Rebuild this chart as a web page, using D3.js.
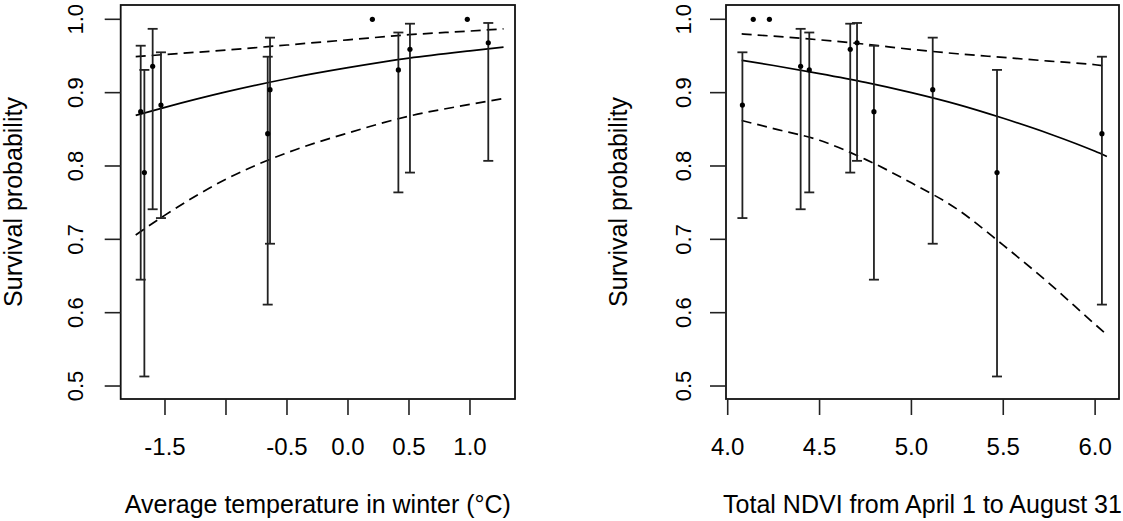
<!DOCTYPE html>
<html>
<head>
<meta charset="utf-8">
<script src="https://cdn.jsdelivr.net/npm/d3@7"></script>
<style>
  body { margin: 0; background: #fff; }
  svg text { font-family: "Liberation Sans", Arial, sans-serif; fill: #000; }
</style>
</head>
<body>
<div id="my_dataviz"></div>
<script>
var tempX    = [-1.699, -1.669, -1.601, -1.533, -0.658, -0.639, 0.200, 0.413, 0.508, 0.978, 1.150];
var ndviX    = [4.796, 5.466, 4.397, 4.080, 6.037, 5.116, 4.139, 4.444, 4.667, 4.227, 4.704];
var survival = [0.874, 0.791, 0.936, 0.883, 0.844, 0.904, 1.000, 0.931, 0.959, 1.000, 0.968];
var ciLow    = [0.645, 0.513, 0.741, 0.729, 0.611, 0.694, null, 0.764, 0.791, null, 0.807];
var ciHigh   = [0.964, 0.931, 0.987, 0.955, 0.949, 0.975, null, 0.982, 0.994, null, 0.995];

// fitted relation with temperature
var tempGrid  = [-1.74, -1.5, -1.0, -0.5, 0.0, 0.5, 1.0, 1.275];
var tempFit   = [0.869, 0.880, 0.901, 0.919, 0.934, 0.947, 0.957, 0.962];
var tempFitUp = [0.949, 0.952, 0.958, 0.965, 0.972, 0.979, 0.984, 0.987];
var tempFitLo = [0.706, 0.733, 0.782, 0.818, 0.845, 0.868, 0.884, 0.892];

// fitted relation with NDVI
var ndviGrid  = [4.076, 4.25, 4.5, 4.75, 5.0, 5.25, 5.5, 5.75, 6.0, 6.064];
var ndviFit   = [0.944, 0.937, 0.926, 0.914, 0.900, 0.884, 0.865, 0.844, 0.820, 0.813];
var ndviFitUp = [0.980, 0.977, 0.972, 0.966, 0.959, 0.953, 0.948, 0.943, 0.938, 0.936];
var ndviFitLo = [0.862, 0.851, 0.835, 0.809, 0.777, 0.741, 0.692, 0.640, 0.584, 0.570];

var tempTicks  = [-1.5, -1.0, -0.5, 0.0, 0.5, 1.0];
var tempLabels = ["-1.5", "", "-0.5", "0.0", "0.5", "1.0"];
var ndviTicks  = [4.0, 4.5, 5.0, 5.5, 6.0];
var ndviLabels = ["4.0", "4.5", "5.0", "5.5", "6.0"];
var yTicks     = [0.5, 0.6, 0.7, 0.8, 0.9, 1.0];
var yLabels    = ["0.5", "0.6", "0.7", "0.8", "0.9", "1.0"];

var W = 1123, H = 521;
var top_ = 5, bottom_ = 399;

var svg = d3.select("#my_dataviz")
  .append("svg")
    .attr("width", W)
    .attr("height", H);

function make_panel(o) {
  var x = d3.scaleLinear().domain(o.xdom).range([o.left, o.right]);
  var y = d3.scaleLinear().domain([0.4823, 1.0195]).range([bottom_, top_]);

  var g = svg.append("g");

  // fitted curves
  var line = d3.line()
    .x(function(d) { return x(d[0]); })
    .y(function(d) { return y(d[1]); })
    .curve(d3.curveMonotoneX);

  [[o.fit, null], [o.up, "10,6"], [o.lo, "10,6"]].forEach(function(c) {
    g.append("path")
      .datum(o.grid.map(function(v, i) { return [v, c[0][i]]; }))
      .attr("fill", "none")
      .attr("stroke", "#000")
      .attr("stroke-width", 1.7)
      .attr("stroke-dasharray", c[1])
      .attr("d", line);
  });

  // error bars
  var bars = o.xs.map(function(v, i) {
    return {x: v, s: survival[i], lo: ciLow[i], hi: ciHigh[i]};
  });
  var withCi = bars.filter(function(d) { return d.lo !== null; });
  var cap = 5;

  g.selectAll(".eb").data(withCi).enter().append("line")
    .attr("x1", function(d) { return x(d.x); })
    .attr("x2", function(d) { return x(d.x); })
    .attr("y1", function(d) { return y(d.lo); })
    .attr("y2", function(d) { return y(d.hi); })
    .attr("stroke", "#222").attr("stroke-width", 1.8);
  ["lo", "hi"].forEach(function(k) {
    g.selectAll(".cap" + k).data(withCi).enter().append("line")
      .attr("x1", function(d) { return x(d.x) - cap; })
      .attr("x2", function(d) { return x(d.x) + cap; })
      .attr("y1", function(d) { return y(d[k]); })
      .attr("y2", function(d) { return y(d[k]); })
      .attr("stroke", "#222").attr("stroke-width", 1.8);
  });

  g.selectAll(".pt").data(bars).enter().append("circle")
    .attr("cx", function(d) { return x(d.x); })
    .attr("cy", function(d) { return y(d.s); })
    .attr("r", 2.6)
    .attr("fill", "#000");

  // box
  g.append("rect")
    .attr("x", o.left).attr("y", top_)
    .attr("width", o.right - o.left).attr("height", bottom_ - top_)
    .attr("fill", "none").attr("stroke", "#111").attr("stroke-width", 1.8);

  // x axis
  var xa = g.append("g").attr("transform", "translate(0," + bottom_ + ")");
  xa.selectAll("line").data(o.ticks).enter().append("line")
    .attr("x1", function(d) { return x(d); }).attr("x2", function(d) { return x(d); })
    .attr("y1", 0).attr("y2", 16)
    .attr("stroke", "#222").attr("stroke-width", 1.6);
  xa.selectAll("text").data(o.ticks).enter().append("text")
    .attr("x", function(d) { return x(d); })
    .attr("y", 56)
    .attr("text-anchor", "middle")
    .style("font-size", "24px")
    .text(function(d, i) { return o.labels[i]; });

  // y axis
  var ya = g.append("g").attr("transform", "translate(" + o.left + ",0)");
  ya.selectAll("line").data(yTicks).enter().append("line")
    .attr("x1", -16).attr("x2", 0)
    .attr("y1", function(d) { return y(d); }).attr("y2", function(d) { return y(d); })
    .attr("stroke", "#222").attr("stroke-width", 1.6);
  ya.selectAll("text").data(yTicks).enter().append("text")
    .attr("transform", function(d) { return "translate(" + o.ylab + "," + y(d) + ")rotate(-90)"; })
    .attr("text-anchor", "middle")
    .style("font-size", "22px")
    .text(function(d, i) { return yLabels[i]; });

  // titles
  g.append("text")
    .attr("x", (o.left + o.right) / 2)
    .attr("y", 513)
    .attr("text-anchor", "middle")
    .style("font-size", "25px")
    .text(o.xtitle);
  g.append("text")
    .attr("transform", "translate(" + (o.left - 99) + "," + ((top_ + bottom_) / 2) + ")rotate(-90)")
    .attr("text-anchor", "middle")
    .style("font-size", "25px")
    .text("Survival probability");
}

make_panel({
  left: 120.7, right: 515, xdom: [-1.863, 1.369], ylab: -38,
  xs: tempX, grid: tempGrid, fit: tempFit, up: tempFitUp, lo: tempFitLo,
  ticks: tempTicks, labels: tempLabels,
  xtitle: "Average temperature in winter (°C)"
});

make_panel({
  left: 726, right: 1119, xdom: [3.9907, 6.130], ylab: -35,
  xs: ndviX, grid: ndviGrid, fit: ndviFit, up: ndviFitUp, lo: ndviFitLo,
  ticks: ndviTicks, labels: ndviLabels,
  xtitle: "Total NDVI from April 1 to August 31"
});
</script>
</body>
</html>
